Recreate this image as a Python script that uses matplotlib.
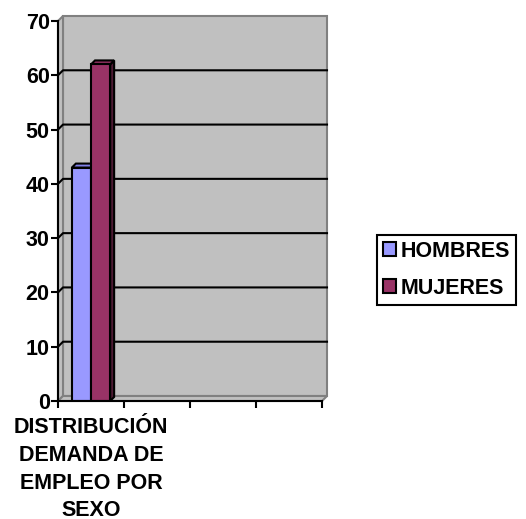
import matplotlib
matplotlib.use("Agg")
import matplotlib.pyplot as plt
from matplotlib.font_manager import FontProperties
from matplotlib.patches import Polygon, Patch

# data
series = ["HOMBRES", "MUJERES"]
values = [43, 62]
front_colors = ["#9999ff", "#993366"]
side_colors = ["#4c4c80", "#4d1a33"]
top_colors = ["#8080e6", "#8a2e5c"]
category_label = "DISTRIBUCIÓN\nDEMANDA DE\nEMPLEO POR\nSEXO"
n_slots = 4
yticks = list(range(0, 71, 10))

fp = FontProperties(family="Liberation Sans", weight="bold", size=15.5)

W, H = 526, 519
fig = plt.figure(figsize=(W / 100, H / 100), dpi=100)
x0_px, x1_px, y0_px, y70_px = 58, 322, 401, 21
ax = fig.add_axes([x0_px / W, (H - y0_px) / H, (x1_px - x0_px) / W, (y0_px - y70_px) / H])
ax.set_xlim(0, n_slots)
ax.set_ylim(0, 70)

pxx = (x1_px - x0_px) / n_slots      # pixels per x unit
pxy = (y0_px - y70_px) / 70.0        # pixels per y unit
wdx, wdy = 5 / pxx, 5 / pxy          # wall depth
bdx, bdy = 4 / pxx, 4 / pxy          # bar depth

wall = "#c0c0c0"
wall_edge = "#808080"
# back wall, left wall, floor
ax.add_patch(Polygon([(wdx, wdy), (n_slots + wdx, wdy), (n_slots + wdx, 70 + wdy), (wdx, 70 + wdy)],
                     closed=True, fc=wall, ec=wall_edge, lw=1.5, clip_on=False, zorder=1))
ax.add_patch(Polygon([(0, 0), (wdx, wdy), (wdx, 70 + wdy), (0, 70)],
                     closed=True, fc=wall, ec=wall_edge, lw=1.5, clip_on=False, zorder=1))
ax.add_patch(Polygon([(0, 0), (n_slots, 0), (n_slots + wdx, wdy), (wdx, wdy)],
                     closed=True, fc=wall, ec=wall_edge, lw=1.5, clip_on=False, zorder=1))
for v in yticks[1:-1]:
    ax.plot([0, wdx, n_slots + wdx], [v, v + wdy, v + wdy], color="black", lw=1.5,
            clip_on=False, zorder=2)

# bars with 3D faces
bw = 0.29
start = 0.5 - bw * len(values) / 2
for i, (v, fc, sc, tc) in enumerate(zip(values, front_colors, side_colors, top_colors)):
    xl = start + i * bw
    xr = xl + bw
    ax.add_patch(Polygon([(xr, 0), (xr + bdx, bdy), (xr + bdx, v + bdy), (xr, v)],
                         closed=True, fc=sc, ec="black", lw=1.5, zorder=3 + i))
    ax.add_patch(Polygon([(xl, v), (xr, v), (xr + bdx, v + bdy), (xl + bdx, v + bdy)],
                         closed=True, fc=tc, ec="black", lw=1.5, zorder=3 + i))
    ax.add_patch(Polygon([(xl, 0), (xr, 0), (xr, v), (xl, v)],
                         closed=True, fc=fc, ec="black", lw=1.5, zorder=3 + i))

for s in ["top", "right"]:
    ax.spines[s].set_visible(False)
for s in ["left", "bottom"]:
    ax.spines[s].set_linewidth(1.5)
    ax.spines[s].set_zorder(6)
ax.set_yticks(yticks)
ax.set_yticklabels([str(t) for t in yticks], fontproperties=fp)
ax.set_xticks(range(n_slots + 1))
ax.set_xticklabels([])
ax.tick_params(axis="both", direction="out", width=1.5, length=5, pad=1)
ax.text(0.5, -3.0, category_label, ha="center", va="top", fontproperties=fp,
        linespacing=1.42, clip_on=False)

handles = [Patch(fc=c, ec="black", lw=1.5) for c in front_colors]
leg = fig.legend(handles, series, loc="upper left", bbox_to_anchor=(377 / W, 1 - 235 / H),
                 frameon=True, fancybox=False, edgecolor="black", framealpha=1,
                 prop=fp, handlelength=0.62, handleheight=0.62, handletextpad=0.2,
                 borderpad=0.28, borderaxespad=0, labelspacing=0.72)
leg.get_frame().set_linewidth(1.5)

fig.savefig("out.png", dpi=100)
